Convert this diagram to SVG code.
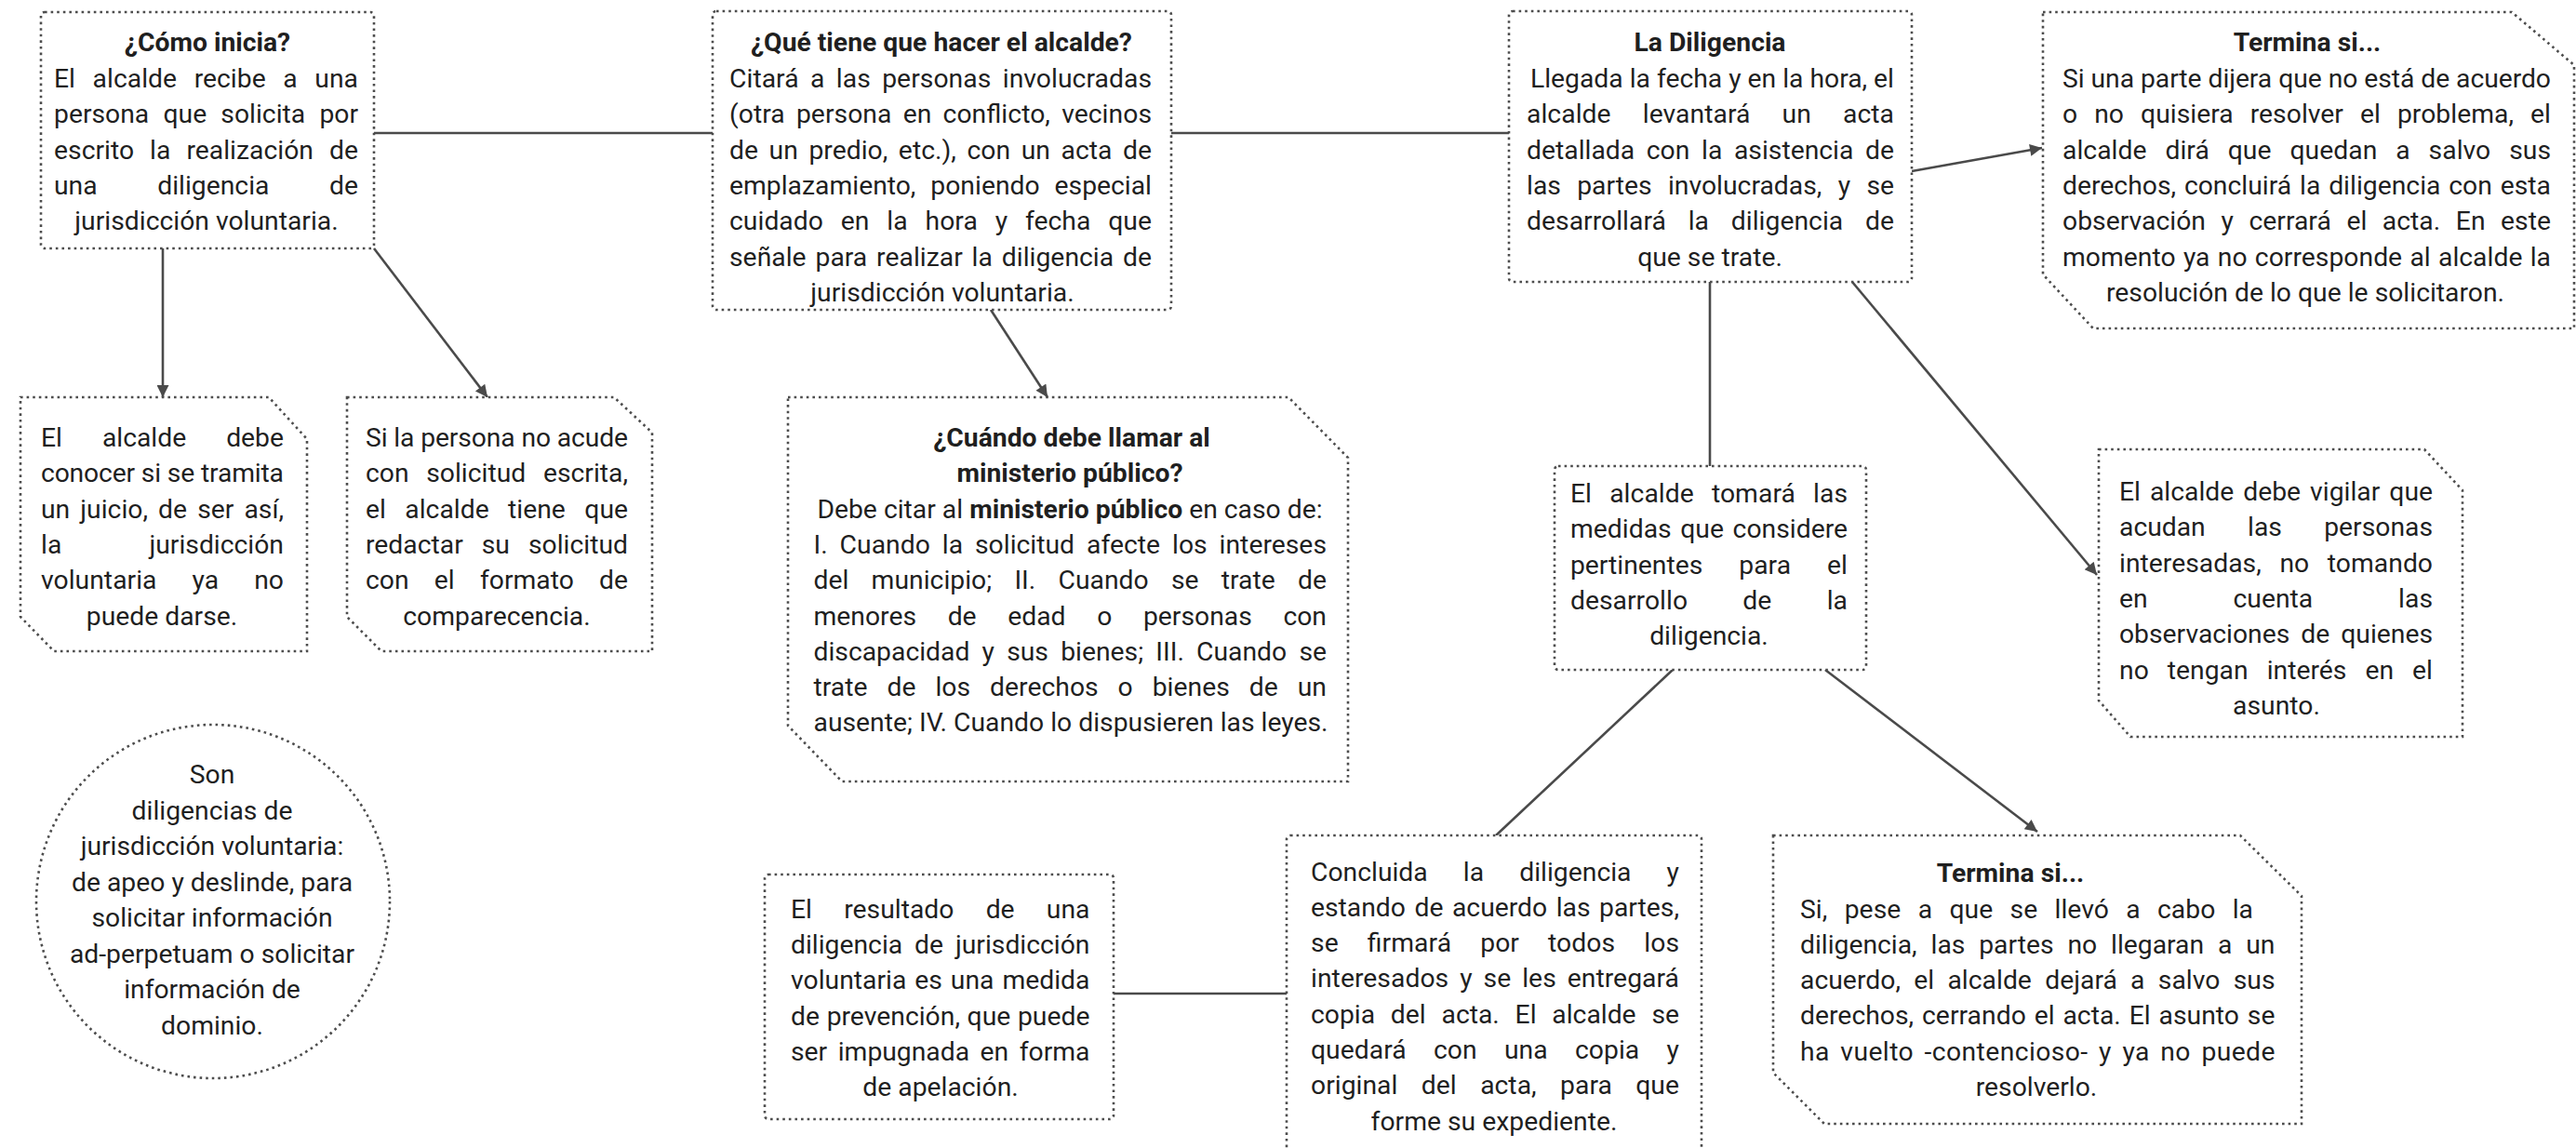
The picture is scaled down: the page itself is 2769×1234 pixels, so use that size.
<svg xmlns="http://www.w3.org/2000/svg" width="2769" height="1234" viewBox="0 0 2769 1234">
<defs>
<style>
.t{font-family:Roboto,"Liberation Sans",Arial,sans-serif;font-size:28.3px;fill:#1f1f1f}
.b{font-weight:700}
.c{text-anchor:middle}
.box{fill:#fff;stroke:#4d4d4d;stroke-width:2.6;stroke-dasharray:2.6 4}
.con{fill:none;stroke:#4a4a4a;stroke-width:2.6}
.arr{marker-end:url(#ah)}
</style>
<marker id="ah" viewBox="0 0 10 10" refX="10" refY="5" markerUnits="userSpaceOnUse" markerWidth="16" markerHeight="13" orient="auto">
<path d="M0,0 L10,5 L0,10 z" fill="#4a4a4a"/>
</marker>
</defs>
<rect width="2769" height="1234" fill="#fff"/>

<g id="connectors">
<line class="con" x1="402" y1="143" x2="766" y2="143"/>
<line class="con" x1="1259" y1="143" x2="1622" y2="143"/>
<line class="con arr" x1="2055" y1="184" x2="2195" y2="159"/>
<line class="con arr" x1="175" y1="267" x2="175" y2="427"/>
<line class="con arr" x1="402" y1="267" x2="524" y2="427"/>
<line class="con arr" x1="1065" y1="333" x2="1126" y2="427"/>
<line class="con" x1="1838" y1="303" x2="1838" y2="501"/>
<line class="con arr" x1="1991" y1="303" x2="2254" y2="618"/>
<line class="con" x1="1798" y1="720" x2="1608" y2="898"/>
<line class="con arr" x1="1962" y1="720" x2="2190" y2="894"/>
<line class="con" x1="1197" y1="1068" x2="1383" y2="1068"/>
</g>

<g id="como-inicia">
<rect class="box" x="44" y="13" width="358" height="254" rx="4"/>
<text class="t b c" x="223" y="55">¿Cómo inicia?</text>
<text class="t" x="58" y="94" textLength="327" lengthAdjust="spacing" word-spacing="11.6">El alcalde recibe a una</text>
<text class="t" x="58" y="132.3" textLength="327" lengthAdjust="spacing" word-spacing="8.2">persona que solicita por</text>
<text class="t" x="58" y="170.6" textLength="327" lengthAdjust="spacing" word-spacing="10">escrito la realización de</text>
<text class="t" x="58" y="208.9" textLength="327" lengthAdjust="spacing" word-spacing="57.6">una diligencia de</text>
<text class="t c" x="222" y="247.2">jurisdicción voluntaria.</text>
</g>

<g id="que-tiene">
<rect class="box" x="766" y="12" width="493" height="321" rx="4"/>
<text class="t b c" x="1012" y="55">¿Qué tiene que hacer el alcalde?</text>
<text class="t" x="784" y="94" textLength="454" lengthAdjust="spacing" word-spacing="5.3">Citará a las personas involucradas</text>
<text class="t" x="784" y="132.3" textLength="454" lengthAdjust="spacing" word-spacing="5.1">(otra persona en conflicto, vecinos</text>
<text class="t" x="784" y="170.6" textLength="454" lengthAdjust="spacing" word-spacing="4.6">de un predio, etc.), con un acta de</text>
<text class="t" x="784" y="208.9" textLength="454" lengthAdjust="spacing" word-spacing="8.9">emplazamiento, poniendo especial</text>
<text class="t" x="784" y="247.2" textLength="454" lengthAdjust="spacing" word-spacing="11.8">cuidado en la hora y fecha que</text>
<text class="t" x="784" y="285.5" textLength="454" lengthAdjust="spacing" word-spacing="2.8">señale para realizar la diligencia de</text>
<text class="t c" x="1013" y="323.8">jurisdicción voluntaria.</text>
</g>

<g id="la-diligencia">
<rect class="box" x="1622" y="12" width="433" height="291" rx="4"/>
<text class="t b c" x="1838" y="55">La Diligencia</text>
<text class="t" x="1645" y="94" textLength="391" lengthAdjust="spacing">Llegada la fecha y en la hora, el</text>
<text class="t" x="1641" y="132.3" textLength="395" lengthAdjust="spacing" word-spacing="27.1">alcalde levantará un acta</text>
<text class="t" x="1641" y="170.6" textLength="395" lengthAdjust="spacing" word-spacing="5.6">detallada con la asistencia de</text>
<text class="t" x="1641" y="208.9" textLength="395" lengthAdjust="spacing" word-spacing="10.3">las partes involucradas, y se</text>
<text class="t" x="1641" y="247.2" textLength="395" lengthAdjust="spacing" word-spacing="16.7">desarrollará la diligencia de</text>
<text class="t c" x="1838" y="285.5">que se trate.</text>
</g>

<g id="termina-si-1">
<path class="box" d="M2196,13 L2700,13 L2767,70 L2767,353 L2250,353 L2196,295 Z"/>
<text class="t b c" x="2480" y="55">Termina si...</text>
<text class="t" x="2217" y="94" textLength="525" lengthAdjust="spacing">Si una parte dijera que no está de acuerdo</text>
<text class="t" x="2217" y="132.3" textLength="525" lengthAdjust="spacing" word-spacing="11">o no quisiera resolver el problema, el</text>
<text class="t" x="2217" y="170.6" textLength="525" lengthAdjust="spacing" word-spacing="12.9">alcalde dirá que quedan a salvo sus</text>
<text class="t" x="2217" y="208.9" textLength="525" lengthAdjust="spacing" word-spacing="1.8">derechos, concluirá la diligencia con esta</text>
<text class="t" x="2217" y="247.2" textLength="525" lengthAdjust="spacing" word-spacing="9.5">observación y cerrará el acta. En este</text>
<text class="t" x="2217" y="285.5" textLength="525" lengthAdjust="spacing" word-spacing="1.2">momento ya no corresponde al alcalde la</text>
<text class="t c" x="2478" y="323.8">resolución de lo que le solicitaron.</text>
</g>

<g id="debe-conocer">
<path class="box" d="M22,427 L289,427 L330,472 L330,700 L58,700 L22,663 Z"/>
<text class="t" x="44" y="480" textLength="261" lengthAdjust="spacing" word-spacing="35.9">El alcalde debe</text>
<text class="t" x="44" y="518.3" textLength="261" lengthAdjust="spacing">conocer si se tramita</text>
<text class="t" x="44" y="556.6" textLength="261" lengthAdjust="spacing" word-spacing="4.1">un juicio, de ser así,</text>
<text class="t" x="44" y="594.9" textLength="261" lengthAdjust="spacing" word-spacing="87.2">la jurisdicción</text>
<text class="t" x="44" y="633.2" textLength="261" lengthAdjust="spacing" word-spacing="31">voluntaria ya no</text>
<text class="t c" x="174" y="671.5">puede darse.</text>
</g>

<g id="no-acude">
<path class="box" d="M373,427 L660,427 L701,465 L701,700 L410,700 L373,663 Z"/>
<text class="t" x="393" y="480" textLength="282" lengthAdjust="spacing">Si la persona no acude</text>
<text class="t" x="393" y="518.3" textLength="282" lengthAdjust="spacing" word-spacing="11.7">con solicitud escrita,</text>
<text class="t" x="393" y="556.6" textLength="282" lengthAdjust="spacing" word-spacing="13.4">el alcalde tiene que</text>
<text class="t" x="393" y="594.9" textLength="282" lengthAdjust="spacing" word-spacing="12.9">redactar su solicitud</text>
<text class="t" x="393" y="633.2" textLength="282" lengthAdjust="spacing" word-spacing="20.2">con el formato de</text>
<text class="t c" x="534" y="671.5">comparecencia.</text>
</g>

<g id="ministerio-publico">
<path class="box" d="M847,427 L1385,427 L1449,492 L1449,840 L905,840 L847,780 Z"/>
<text class="t b c" x="1152" y="480">¿Cuándo debe llamar al</text>
<text class="t b c" x="1150" y="518.3">ministerio público?</text>
<text class="t c" x="1150" y="556.6">Debe citar al <tspan class="b">ministerio público</tspan> en caso de:</text>
<text class="t" x="874.5" y="594.9" textLength="551.5" lengthAdjust="spacing" word-spacing="5.9">I. Cuando la solicitud afecte los intereses</text>
<text class="t" x="874.5" y="633.2" textLength="551.5" lengthAdjust="spacing" word-spacing="17.2">del municipio; II. Cuando se trate de</text>
<text class="t" x="874.5" y="671.5" textLength="551.5" lengthAdjust="spacing" word-spacing="26.6">menores de edad o personas con</text>
<text class="t" x="874.5" y="709.8" textLength="551.5" lengthAdjust="spacing" word-spacing="6.2">discapacidad y sus bienes; III. Cuando se</text>
<text class="t" x="874.5" y="748.1" textLength="551.5" lengthAdjust="spacing" word-spacing="13.9">trate de los derechos o bienes de un</text>
<text class="t" x="874.5" y="786.4">ausente; IV. Cuando lo dispusieren las leyes.</text>
</g>

<g id="tomara-medidas">
<rect class="box" x="1671" y="501" width="335" height="219" rx="4"/>
<text class="t" x="1688" y="540" textLength="298" lengthAdjust="spacing" word-spacing="12.1">El alcalde tomará las</text>
<text class="t" x="1688" y="578.3" textLength="298" lengthAdjust="spacing" word-spacing="2.6">medidas que considere</text>
<text class="t" x="1688" y="616.6" textLength="298" lengthAdjust="spacing" word-spacing="32.1">pertinentes para el</text>
<text class="t" x="1688" y="654.9" textLength="298" lengthAdjust="spacing" word-spacing="52.3">desarrollo de la</text>
<text class="t c" x="1837" y="693.2">diligencia.</text>
</g>

<g id="vigilar">
<path class="box" d="M2256,483 L2606,483 L2647,527 L2647,792 L2290,792 L2256,753 Z"/>
<text class="t" x="2278" y="538" textLength="337" lengthAdjust="spacing" word-spacing="3">El alcalde debe vigilar que</text>
<text class="t" x="2278" y="576.3" textLength="337" lengthAdjust="spacing" word-spacing="38.3">acudan las personas</text>
<text class="t" x="2278" y="614.6" textLength="337" lengthAdjust="spacing" word-spacing="12.6">interesadas, no tomando</text>
<text class="t" x="2278" y="652.9" textLength="337" lengthAdjust="spacing" word-spacing="84.9">en cuenta las</text>
<text class="t" x="2278" y="691.2" textLength="337" lengthAdjust="spacing" word-spacing="5">observaciones de quienes</text>
<text class="t" x="2278" y="729.5" textLength="337" lengthAdjust="spacing" word-spacing="13">no tengan interés en el</text>
<text class="t c" x="2447" y="767.8">asunto.</text>
</g>

<g id="concluida">
<rect class="box" x="1383" y="898" width="446" height="360" rx="4"/>
<text class="t" x="1409" y="946.5" textLength="396" lengthAdjust="spacing" word-spacing="31.1">Concluida la diligencia y</text>
<text class="t" x="1409" y="984.8" textLength="396" lengthAdjust="spacing" word-spacing="2.6">estando de acuerdo las partes,</text>
<text class="t" x="1409" y="1023.1" textLength="396" lengthAdjust="spacing" word-spacing="23.9">se firmará por todos los</text>
<text class="t" x="1409" y="1061.4" textLength="396" lengthAdjust="spacing" word-spacing="4.9">interesados y se les entregará</text>
<text class="t" x="1409" y="1099.7" textLength="396" lengthAdjust="spacing" word-spacing="9.8">copia del acta. El alcalde se</text>
<text class="t" x="1409" y="1138" textLength="396" lengthAdjust="spacing" word-spacing="22.3">quedará con una copia y</text>
<text class="t" x="1409" y="1176.3" textLength="396" lengthAdjust="spacing" word-spacing="18.4">original del acta, para que</text>
<text class="t c" x="1606" y="1214.6">forme su expediente.</text>
</g>

<g id="resultado">
<rect class="box" x="822" y="940" width="375" height="263" rx="4"/>
<text class="t" x="850" y="986.7" textLength="321.5" lengthAdjust="spacing" word-spacing="27.2">El resultado de una</text>
<text class="t" x="850" y="1025" textLength="321.5" lengthAdjust="spacing" word-spacing="5.9">diligencia de jurisdicción</text>
<text class="t" x="850" y="1063.3" textLength="321.5" lengthAdjust="spacing" word-spacing="1.9">voluntaria es una medida</text>
<text class="t" x="850" y="1101.6" textLength="321.5" lengthAdjust="spacing" word-spacing="0.6">de prevención, que puede</text>
<text class="t" x="850" y="1139.9" textLength="321.5" lengthAdjust="spacing" word-spacing="4.5">ser impugnada en forma</text>
<text class="t c" x="1011" y="1178.2">de apelación.</text>
</g>

<g id="termina-si-2">
<path class="box" d="M1906,898 L2408,898 L2474,963 L2474,1208 L1961,1208 L1906,1153 Z"/>
<text class="t b c" x="2161" y="948">Termina si...</text>
<text class="t" x="1935" y="986.5" textLength="487" lengthAdjust="spacing" word-spacing="11.3">Si, pese a que se llevó a cabo la</text>
<text class="t" x="1935" y="1024.8" textLength="510.5" lengthAdjust="spacing" word-spacing="7.9">diligencia, las partes no llegaran a un</text>
<text class="t" x="1935" y="1063.1" textLength="510.5" lengthAdjust="spacing" word-spacing="7.2">acuerdo, el alcalde dejará a salvo sus</text>
<text class="t" x="1935" y="1101.4" textLength="510.5" lengthAdjust="spacing" word-spacing="1.8">derechos, cerrando el acta. El asunto se</text>
<text class="t" x="1935" y="1139.7" textLength="510.5" lengthAdjust="spacing" word-spacing="4.1">ha vuelto -contencioso- y ya no puede</text>
<text class="t c" x="2189" y="1178">resolverlo.</text>
</g>

<g id="son-diligencias">
<circle class="box" cx="229" cy="969" r="190"/>
<text class="t c" x="228" y="842">Son</text>
<text class="t c" x="228" y="880.5">diligencias de</text>
<text class="t c" x="228" y="919">jurisdicción voluntaria:</text>
<text class="t c" x="228" y="957.5">de apeo y deslinde, para</text>
<text class="t c" x="228" y="996">solicitar información</text>
<text class="t c" x="228" y="1034.5">ad-perpetuam o solicitar</text>
<text class="t c" x="228" y="1073">información de</text>
<text class="t c" x="228" y="1111.5">dominio.</text>
</g>
</svg>
